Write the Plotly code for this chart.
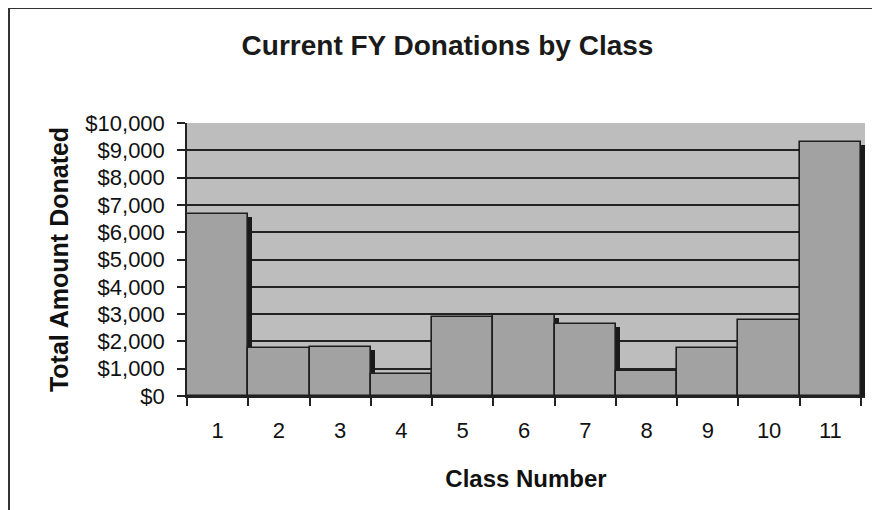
import plotly.graph_objects as go

classes = ["1", "2", "3", "4", "5", "6", "7", "8", "9", "10", "11"]
donations = [6650, 1750, 1800, 800, 2900, 2950, 2650, 900, 1750, 2800, 9300]
y_ticks = [0, 1000, 2000, 3000, 4000, 5000, 6000, 7000, 8000, 9000, 10000]
y_tick_labels = ["$0", "$1,000", "$2,000", "$3,000", "$4,000", "$5,000",
                 "$6,000", "$7,000", "$8,000", "$9,000", "$10,000"]

FONT = "Liberation Sans, Arial, sans-serif"

# page body has an 8px margin: figure is sized / placed to compensate
OFF = 8
PL, PR, PT, PB = 187 - OFF, 865 - OFF, 123 - OFF, 396 - OFF   # plot area in figure px
W, H = 880 - OFF, 510 - OFF
PW, PH = PR - PL, PB - PT

fig = go.Figure()

# shadow (offset right/down)
fig.add_trace(go.Bar(
    x=classes, y=donations, base=-110,
    offset=-0.5 + 0.065, width=1,
    marker=dict(color="#1a1a1a", line=dict(width=0)),
    hoverinfo="skip", showlegend=False,
))
# main bars
fig.add_trace(go.Bar(
    x=classes, y=donations,
    offset=-0.5, width=1,
    marker=dict(color="#a2a2a2", line=dict(color="#1e1e1e", width=1.6)),
    showlegend=False,
))

fig.update_layout(
    width=W, height=H,
    margin=dict(l=PL, r=W - PR, t=PT, b=H - PB),
    paper_bgcolor="white",
    plot_bgcolor="#bdbdbd",
    barmode="overlay",
    bargap=0,
    font=dict(family=FONT, color="#111111"),
    title=dict(
        text="Current FY Donations by Class",
        font=dict(family=FONT, size=28, weight="bold", color="#1a1a1a"),
        xref="container", x=(447.5 - OFF) / W, xanchor="center",
        yref="container", y=1 - (45 - OFF) / H, yanchor="middle",
    ),
    xaxis=dict(
        type="category",
        tickson="boundaries",
        ticks="outside", ticklen=8, tickwidth=1.5, tickcolor="#222222",
        showline=True, linecolor="#222222", linewidth=1.5,
        showgrid=False,
        tickfont=dict(size=22, family=FONT, color="#111111"),
        ticklabelstandoff=14,
        title=dict(text="Class Number", standoff=28,
                   font=dict(size=24, weight="bold", family=FONT, color="#111111")),
    ),
    yaxis=dict(
        range=[0, 10000],
        tickmode="array",
        tickvals=y_ticks,
        ticktext=y_tick_labels,
        ticks="outside", ticklen=8, tickwidth=1.5, tickcolor="#222222",
        showline=True, linecolor="#222222", linewidth=1.5,
        showgrid=True, gridcolor="#222222", gridwidth=1.5,
        zeroline=False,
        tickfont=dict(size=22, family=FONT, color="#111111"),
        ticklabelstandoff=8,
        title=dict(text="Total Amount Donated", standoff=10,
                   font=dict(size=25, weight="bold", family=FONT, color="#111111")),
    ),
    shapes=[
        dict(type="rect", xref="paper", yref="paper",
             x0=(9 - 187) / PW, x1=(877 - 187) / PW,
             y0=-0.6, y1=(396 - 8) / PH,
             line=dict(color="#333333", width=2), fillcolor="rgba(0,0,0,0)",
             layer="above"),
    ],
)

fig.write_html("out.html")
